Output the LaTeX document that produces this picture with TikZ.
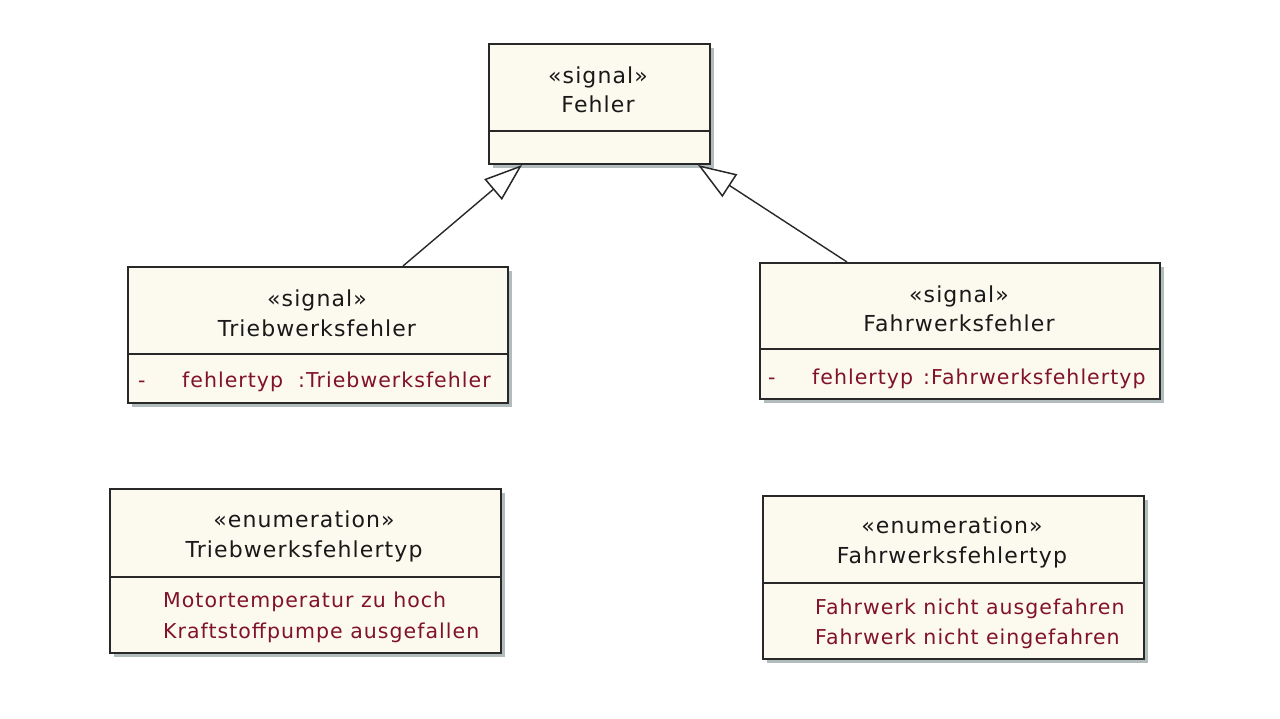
\documentclass[tikz,border=0pt]{standalone}
\usepackage{fontspec}
\setmainfont{DejaVu Sans}[LetterSpace=5]
\usetikzlibrary{arrows.meta,shadows}
\definecolor{cream}{RGB}{252,249,238}
\definecolor{attr}{RGB}{128,18,42}
\definecolor{shade}{RGB}{178,188,188}
\definecolor{edge}{RGB}{40,40,40}
\tikzset{
  umlbox/.style={draw=edge, line width=1.6pt, fill=cream, rectangle, inner sep=0pt,
    anchor=north west, drop shadow={shadow xshift=4pt, shadow yshift=-4pt, fill=shade, opacity=1}},
  divider/.style={draw=edge, line width=1.6pt},
  title/.style={font=\fontsize{22}{26}\selectfont, text=black!90, inner sep=0pt, text height=20pt, text depth=0pt},
  attrtxt/.style={font=\fontsize{20.5}{24}\selectfont, text=attr, inner sep=0pt, anchor=west, text height=16pt, text depth=1pt},
  gen/.style={draw=edge, line width=1.4pt, -{Triangle[open, length=38pt, width=27pt, fill=white, line width=1.5pt]}}
}
\begin{document}
\begin{tikzpicture}[x=1pt,y=-1pt]
\useasboundingbox[fill=white] (0,0) rectangle (1280,719);

% Fehler
\node[umlbox, minimum width=221pt, minimum height=120pt] (fehler) at (488,43) {};
\draw[divider] (fehler.west |- 0,131) -- (fehler.east |- 0,131);
\node[title] (fs) at (598,74) {«signal»};
\node[title] (fn) at (598,103) {Fehler};

% Triebwerksfehler
\node[umlbox, minimum width=380pt, minimum height=136pt] (tw) at (127,266) {};
\draw[divider] (tw.west |- 0,354) -- (tw.east |- 0,354);
\node[title] (tws) at (317,297) {«signal»};
\node[title] (twn) at (317,327) {Triebwerksfehler};
\node[attrtxt] (twa0) at (138,380) {-};
\node[attrtxt] (twa1) at (182,380) {fehlertyp};
\node[attrtxt] (twa2) at (298,380) {:Triebwerksfehler};

% Fahrwerksfehler
\node[umlbox, minimum width=400pt, minimum height=136pt] (fw) at (759,262) {};
\draw[divider] (fw.west |- 0,349) -- (fw.east |- 0,349);
\node[title] (fws) at (959,293) {«signal»};
\node[title] (fwn) at (959,322) {Fahrwerksfehler};
\node[attrtxt] (fwa0) at (768,377) {-};
\node[attrtxt] (fwa1) at (812,377) {fehlertyp};
\node[attrtxt] (fwa2) at (923,377) {:Fahrwerksfehlertyp};

% Triebwerksfehlertyp
\node[umlbox, minimum width=391pt, minimum height=164pt] (twt) at (109,488) {};
\draw[divider] (twt.west |- 0,577) -- (twt.east |- 0,577);
\node[title] (twts) at (304,517) {«enumeration»};
\node[title] (twtn) at (304,547) {Triebwerksfehlertyp};
\node[attrtxt] (twt1) at (163,600) {Motortemperatur zu hoch};
\node[attrtxt] (twt2) at (163,631) {Kraftstoffpumpe ausgefallen};

% Fahrwerksfehlertyp
\node[umlbox, minimum width=381pt, minimum height=163pt] (fwt) at (762,495) {};
\draw[divider] (fwt.west |- 0,583) -- (fwt.east |- 0,583);
\node[title] (fwts) at (952,523) {«enumeration»};
\node[title] (fwtn) at (952,553) {Fahrwerksfehlertyp};
\node[attrtxt] (fwt1) at (815,607) {Fahrwerk nicht ausgefahren};
\node[attrtxt] (fwt2) at (815,637) {Fahrwerk nicht eingefahren};

% generalisations
\coordinate (t1) at (403,266);
\coordinate (f1) at (522,165);
\coordinate (t2) at (847,262);
\coordinate (f2) at (698,165);
\draw[gen] (t1) -- (f1);
\draw[gen] (t2) -- (f2);
\end{tikzpicture}
\end{document}
